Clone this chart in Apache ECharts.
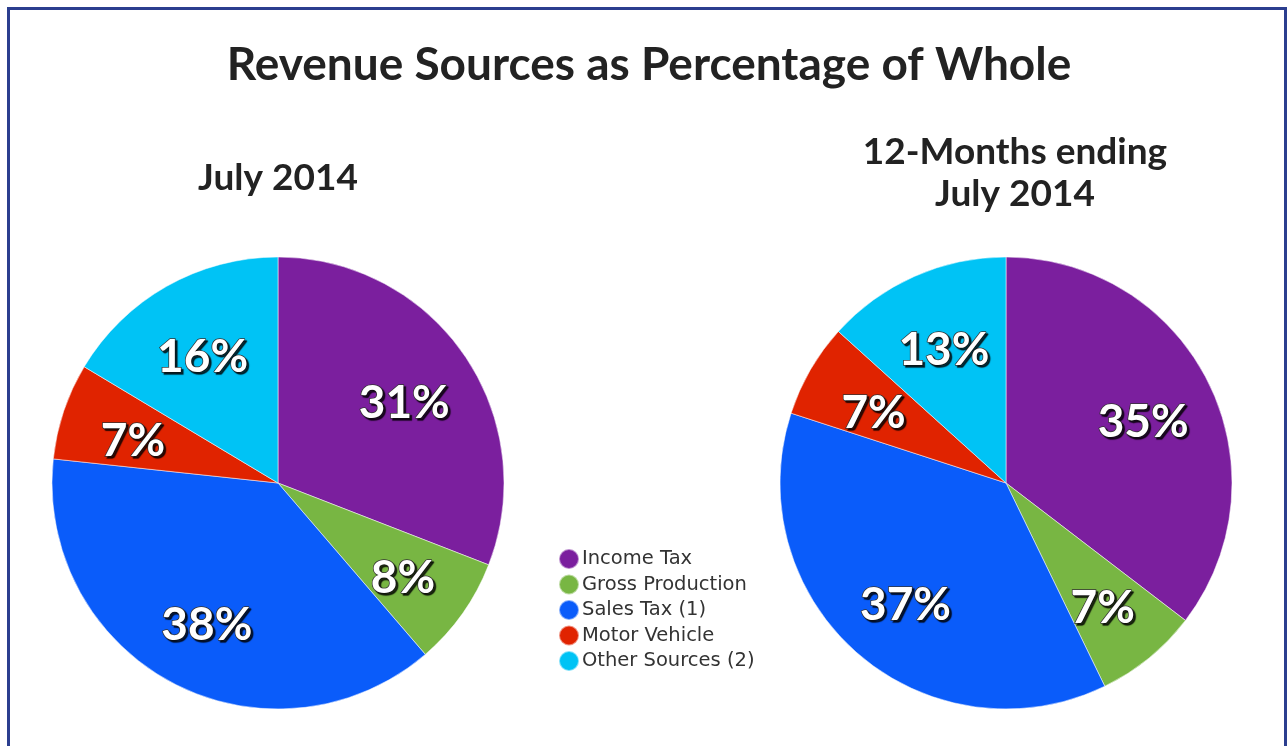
<!DOCTYPE html>
<html>
<head>
<meta charset="utf-8">
<script src="https://cdn.jsdelivr.net/npm/echarts@6/dist/echarts.min.js"></script>
<style>
  html, body { margin: 0; padding: 0; background: #fff; }
  #chart { width: 1288px; height: 746px; }
</style>
</head>
<body>
<div id="chart"></div>
<script>
var categories = ['Income Tax', 'Gross Production', 'Sales Tax (1)', 'Motor Vehicle', 'Other Sources (2)'];
var july2014 = [30.9, 7.8, 38.0, 6.9, 16.4];
var twelveMonths = [35.4, 7.4, 37.2, 6.7, 13.3];
var colors = ['#7b1f9e', '#78b643', '#0a5cfa', '#e02300', '#00c3f5'];

var chart = echarts.init(document.getElementById('chart'));

function pieData(values) {
	return categories.map(function (name, i) {
		return { name: name, value: values[i] };
	});
}

var labelStyle = {
	show: true,
	position: 'inside',
	formatter: function (p) { return Math.round(p.value) + '%'; },
	color: '#fff',
	fontFamily: 'Lato',
	fontWeight: 'bold',
	fontSize: 46,
	offset: [0, 7],
	textBorderColor: '#333',
	textBorderWidth: 1.5,
	textShadowColor: 'rgba(0,0,0,0.75)',
	textShadowOffsetX: 2,
	textShadowOffsetY: 2,
	textShadowBlur: 1
};

function makePies(values, cx) {
	return [
		{
			// visible slices
			type: 'pie',
			center: [cx, 483],
			radius: [0, 226],
			startAngle: 90,
			clockwise: true,
			silent: true,
			label: { show: false },
			labelLine: { show: false },
			itemStyle: { borderColor: 'rgba(255,255,255,0.5)', borderWidth: 1 },
			data: pieData(values)
		},
		{
			// transparent ring just to place the labels further out
			type: 'pie',
			center: [cx, 483],
			radius: [74, 226],
			startAngle: 90,
			clockwise: true,
			silent: true,
			legendHoverLink: false,
			itemStyle: { color: 'rgba(0,0,0,0)' },
			label: labelStyle,
			labelLine: { show: false },
			data: pieData(values)
		}
	];
}

var option = {
	color: colors,
	animation: false,
	title: [
		{
			text: 'Revenue Sources as Percentage of Whole',
			left: 644, top: 37, textAlign: 'center',
			textStyle: { fontFamily: 'Lato', fontWeight: 'bold', fontSize: 46, color: '#222' }
		},
		{
			text: 'July 2014',
			left: 273, top: 155, textAlign: 'center',
			textStyle: { fontFamily: 'Lato', fontWeight: 'bold', fontSize: 37, color: '#222' }
		},
		{
			text: '12-Months ending\nJuly 2014',
			left: 1010, top: 126, textAlign: 'center',
			textStyle: { fontFamily: 'Lato', fontWeight: 'bold', fontSize: 37, lineHeight: 42, color: '#222' }
		}
	],
	legend: {
		orient: 'vertical',
		left: 553,
		top: 543,
		icon: 'circle',
		itemWidth: 20,
		itemHeight: 20,
		itemGap: 3.5,
		data: categories,
		textStyle: { fontFamily: 'DejaVu Sans', fontSize: 19.5, lineHeight: 20, color: '#333', padding: [0, 0, 0, -2] }
	},
	graphic: [
		{
			type: 'rect',
			silent: true,
			shape: { x: 8.5, y: 8.5, width: 1277, height: 800 },
			style: { fill: 'none', stroke: '#2b3e8f', lineWidth: 3 }
		}
	],
	series: makePies(july2014, 278).concat(makePies(twelveMonths, 1006))
};

chart.setOption(option);
</script>
</body>
</html>
